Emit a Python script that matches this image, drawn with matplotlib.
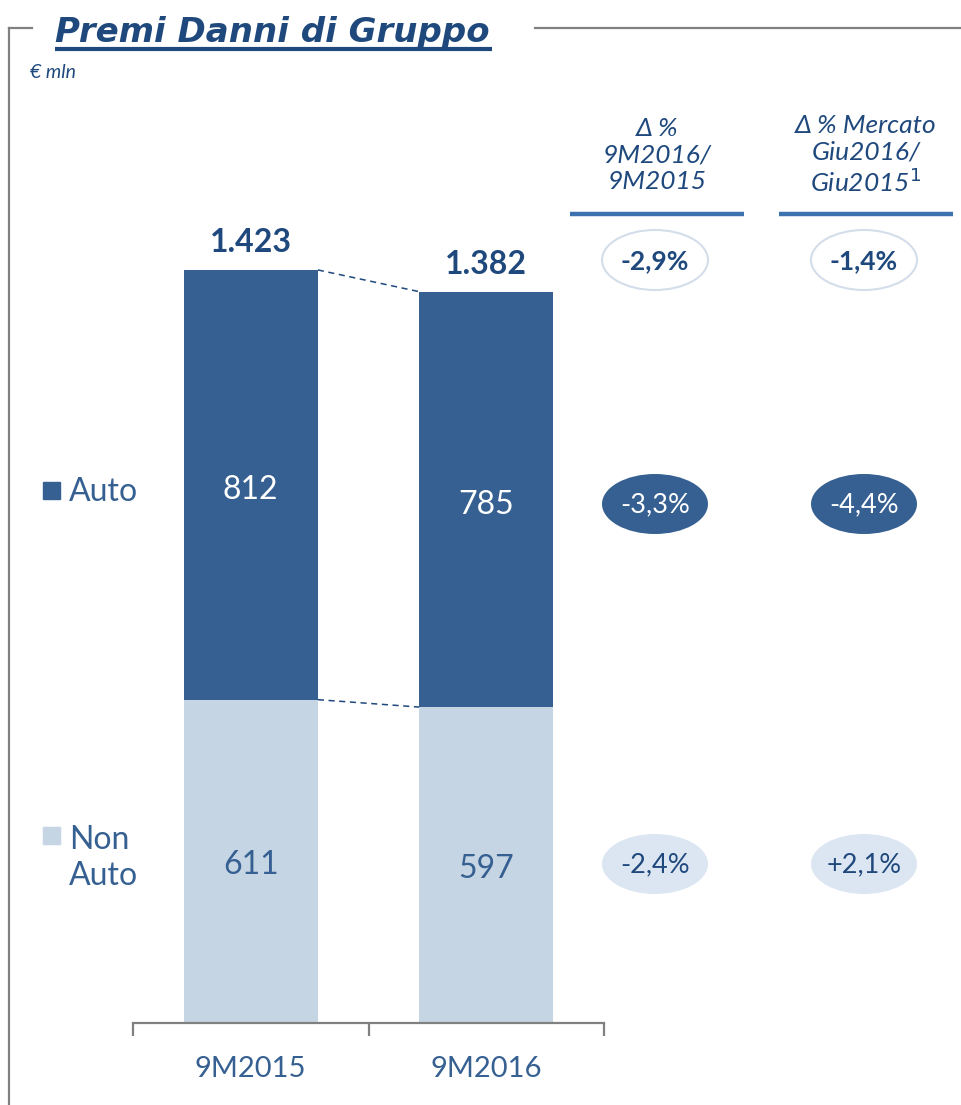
import matplotlib
matplotlib.use("Agg")
import matplotlib.pyplot as plt
from matplotlib.patches import Ellipse, Rectangle

plt.rcParams['font.family'] = ['Lato', 'DejaVu Sans']

# data
periods = ['9M2015', '9M2016']
non_auto = [611, 597]
auto = [812, 785]
totals = ['1.423', '1.382']
delta_headers = ['\u0394 %\n9M2016/\n9M2015', '\u0394 % Mercato\nGiu2016/\nGiu2015$^{1}$']
delta_total = ['-2,9%', '-1,4%']
delta_auto = ['-3,3%', '-4,4%']
delta_non_auto = ['-2,4%', '+2,1%']

navy = '#1F497D'
dark = '#366092'
light = '#C6D5E4'
pale = '#DCE6F2'
grey = '#808080'

W, H = 962, 1105
fig = plt.figure(figsize=(W / 100, H / 100), dpi=100)

# overlay axes in pixel coordinates for frame and side annotations
ov = fig.add_axes([0, 0, 1, 1])
ov.set_xlim(0, W)
ov.set_ylim(H, 0)
ov.axis('off')

ov.plot([9, 9], [H, 28], color=grey, lw=1.6)
ov.plot([9, 32], [28, 28], color=grey, lw=1.6)
ov.plot([535, W], [28, 28], color=grey, lw=1.6)
ov.text(55, 42, 'Premi Danni di Gruppo', fontsize=24.5, fontweight='bold', fontstyle='italic',
        family='DejaVu Sans', color=navy, ha='left', va='baseline')
ov.plot([55, 492], [49, 49], color=navy, lw=3, solid_capstyle='butt')
ov.text(30, 73, '\u20ac mln', fontsize=14, fontstyle='italic', color=navy, va='center')

# legend
ov.add_patch(Rectangle((43, 482), 17, 17, color=dark))
ov.text(69, 492, 'Auto', fontsize=23, color=dark, va='center')
ov.add_patch(Rectangle((43, 827), 17, 17, color=light))
ov.text(69, 858, 'Non\nAuto', fontsize=23, color=dark, va='center', linespacing=1.28)

# delta columns
col_x = [657, 866]
for i, cx in enumerate(col_x):
    ov.text(cx, 155, delta_headers[i], fontsize=19, fontstyle='italic', color=navy,
            ha='center', va='center', linespacing=1.17)
    ov.plot([cx - 87, cx + 87], [214, 214], color='#3C72AE', lw=3.2, solid_capstyle='butt')

    ov.add_patch(Ellipse((cx - 2, 260), 106, 60, facecolor='white', edgecolor='#D3DEEA', lw=1.5))
    ov.text(cx - 2, 261, delta_total[i], fontsize=19, fontweight='bold', color=navy,
            ha='center', va='center')

    ov.add_patch(Ellipse((cx - 2, 504), 106, 60, facecolor=dark, edgecolor='none'))
    ov.text(cx - 2, 505, delta_auto[i], fontsize=19.5, color='white', ha='center', va='center')

    ov.add_patch(Ellipse((cx - 2, 864), 106, 60, facecolor=pale, edgecolor='none'))
    ov.text(cx - 2, 865, delta_non_auto[i], fontsize=19.5, color=navy, ha='center', va='center')

# bar chart
ax = fig.add_axes([133 / W, 82 / H, 471 / W, 1500 * 0.5292 / H])
ax.patch.set_alpha(0)
x = list(range(len(periods)))
bw = 0.57
ax.bar(x, non_auto, width=bw, color=light)
ax.bar(x, auto, width=bw, bottom=non_auto, color=dark)

tot_vals = [a + b for a, b in zip(auto, non_auto)]
for i in x:
    ax.annotate(str(non_auto[i]), (i, non_auto[i] / 2), xytext=(0, -3), textcoords='offset points',
                ha='center', va='center', fontsize=23, color=dark)
    ax.annotate(str(auto[i]), (i, non_auto[i] + auto[i] / 2), xytext=(0, -4), textcoords='offset points',
                ha='center', va='center', fontsize=23, color='white')
    ax.text(i, tot_vals[i] + 24, totals[i], ha='center', va='bottom', fontsize=23,
            fontweight='bold', color=navy)

ax.plot([bw / 2, 1 - bw / 2], [tot_vals[0], tot_vals[1]], color=navy, lw=1.1, ls=(0, (4, 3)))
ax.plot([bw / 2, 1 - bw / 2], [non_auto[0], non_auto[1]], color=navy, lw=1.1, ls=(0, (4, 3)))

ax.set_xlim(-0.5, 1.5)
ax.set_ylim(0, 1500)
for s in ['left', 'right', 'top']:
    ax.spines[s].set_visible(False)
ax.spines['bottom'].set_color(grey)
ax.spines['bottom'].set_linewidth(1.6)
ax.set_yticks([])
ax.set_xticks([-0.5, 0.5, 1.5])
ax.set_xticklabels([])
ax.tick_params(axis='x', which='major', length=9, width=1.6, color=grey)
ax.set_xticks(x, minor=True)
ax.set_xticklabels(periods, minor=True, fontsize=21, color=dark)
ax.tick_params(axis='x', which='minor', length=0, pad=24)

fig.savefig('out.png', dpi=100)
